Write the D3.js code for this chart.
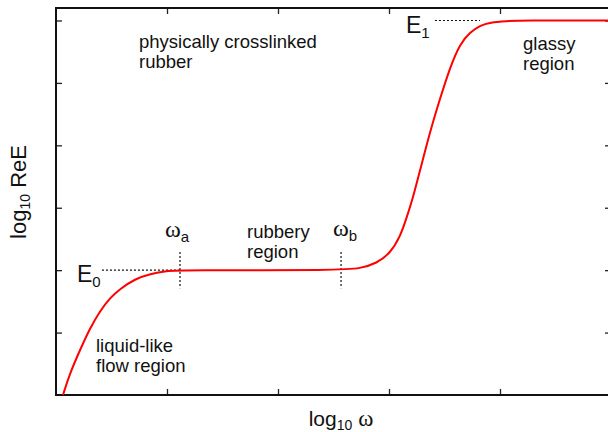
<!DOCTYPE html>
<html lang="en">
    <head>
        <meta charset="UTF-8">
        <title>Modulus vs frequency</title>
        <script src="https://d3js.org/d3.v7.min.js"></script>
        <style>
            body {
                margin: 0;
                background: white;
            }
            svg {
                display: block;
            }
            text {
                font-family: "Liberation Sans", Arial, sans-serif;
                fill: #111;
            }
            .note {
                font-size: 18.5px;
            }
            .greek {
                font-family: "Liberation Serif", "Times New Roman", serif;
            }
        </style>
    </head>
    <body>
        <script>
            // curve (log10 omega, log10 ReE)
            const logOmega = [0.063, 0.126, 0.216, 0.306, 0.396, 0.486, 0.577, 0.712, 0.847, 1.0, 1.117,
                2.57, 2.739, 2.89, 3.01, 3.10, 3.16, 3.21, 3.28, 3.37, 3.46, 3.55, 3.64, 3.73,
                3.82, 3.91, 4.06, 4.18, 5.0]
            const logReE = [0.0, 0.35, 0.72, 1.07, 1.346, 1.554, 1.70, 1.86, 1.94, 1.99, 2.0,
                2.0, 2.027, 2.11, 2.27, 2.53, 2.85, 3.12, 3.6, 4.22, 4.75, 5.25, 5.63, 5.81,
                5.92, 5.97, 5.99, 6.0, 6.0]
            const xTicks = [1, 2, 3, 4]
            const yTicks = [1, 2, 3, 4, 5, 6]
            const E0 = 2, E1 = 6
            const omegaA = 1.117, omegaB = 2.568

            const width = 608
            const height = 432
            const margin = {left: 56, top: 8, right: 611, bottom: 395}

            let svg = d3.select('body').append('svg')
                .attr('width', width)
                .attr('height', height)

            const x = d3.scaleLinear().domain([0, 5]).range([margin.left, margin.right])
            const y = d3.scaleLinear().domain([0, 6.2]).range([margin.bottom, margin.top])

            // ticks point inward on all four sides
            const axes = [
                [d3.axisBottom(x).tickValues(xTicks), `translate(0,${margin.bottom})`],
                [d3.axisTop(x).tickValues(xTicks), `translate(0,${margin.top})`],
                [d3.axisLeft(y).tickValues(yTicks), `translate(${margin.left},0)`],
                [d3.axisRight(y).tickValues(yTicks), `translate(${margin.right},0)`]
            ]
            axes.forEach(([ax, tr]) => {
                const g = svg.append('g')
                    .attr('transform', tr)
                    .call(ax.tickSize(-6).tickFormat(''))
                g.select('.domain').remove()
                g.selectAll('line').attr('stroke', '#222').attr('stroke-width', 1.3)
            })

            svg.append('rect')
                .attr('x', margin.left)
                .attr('y', margin.top)
                .attr('width', margin.right - margin.left)
                .attr('height', margin.bottom - margin.top)
                .attr('fill', 'none')
                .attr('stroke', '#111')
                .attr('stroke-width', 2)

            // dotted guide lines
            const dotted = (x1, y1, x2, y2) => svg.append('line')
                .attr('x1', x(x1)).attr('y1', y(y1))
                .attr('x2', x(x2)).attr('y2', y(y2))
                .attr('stroke', '#111')
                .attr('stroke-width', 1.2)
                .attr('stroke-dasharray', '2,2')
            dotted(0.414, E0, omegaA, E0)
            dotted(omegaA, E0 + 0.29, omegaA, E0 - 0.29)
            dotted(omegaB, E0 + 0.29, omegaB, E0 - 0.29)
            dotted(3.414, E1, 3.82, E1)

            const line = d3.line()
                .x(d => x(d[0]))
                .y(d => y(d[1]))
                .curve(d3.curveBasis)

            svg.append('path')
                .datum(d3.zip(logOmega, logReE))
                .attr('d', line)
                .attr('fill', 'none')
                .attr('stroke', 'red')
                .attr('stroke-width', 2)

            // region notes
            const note = (tx, ty, lines) => {
                const t = svg.append('text').attr('class', 'note')
                lines.forEach((s, i) => t.append('tspan')
                    .attr('x', tx).attr('y', ty + i * 20).text(s))
            }
            note(139, 48, ['physically crosslinked', 'rubber'])
            note(523, 50, ['glassy', 'region'])
            note(247, 238, ['rubbery', 'region'])
            note(96, 352, ['liquid-like', 'flow region'])

            const subLabel = (tx, ty, main, sub, size, cls) => {
                const t = svg.append('text').attr('x', tx).attr('y', ty)
                    .style('font-size', size + 'px')
                t.append('tspan').attr('class', cls).text(main)
                t.append('tspan').attr('dy', 5).style('font-size', '15px').text(sub)
            }
            subLabel(77, 282, 'E', '0', 23, '')
            subLabel(406, 33, 'E', '1', 23, '')
            subLabel(165, 237, 'ω', 'a', 24, 'greek')
            subLabel(333, 236, 'ω', 'b', 24, 'greek')

            // axis titles
            const xt = svg.append('text')
                .attr('x', 341).attr('y', 426)
                .attr('text-anchor', 'middle')
                .style('font-size', '21px')
            xt.append('tspan').text('log')
            xt.append('tspan').attr('dy', 4).style('font-size', '14px').text('10')
            xt.append('tspan').attr('dy', -4).text(' ')
            xt.append('tspan').attr('class', 'greek').style('font-size', '23px').text('ω')

            const yt = svg.append('text')
                .attr('transform', 'translate(26,192) rotate(-90)')
                .attr('text-anchor', 'middle')
                .style('font-size', '22px')
            yt.append('tspan').text('log')
            yt.append('tspan').attr('dy', 4).style('font-size', '14px').text('10')
            yt.append('tspan').attr('dy', -4).text(' ReE')
        </script>
    </body>
</html>
